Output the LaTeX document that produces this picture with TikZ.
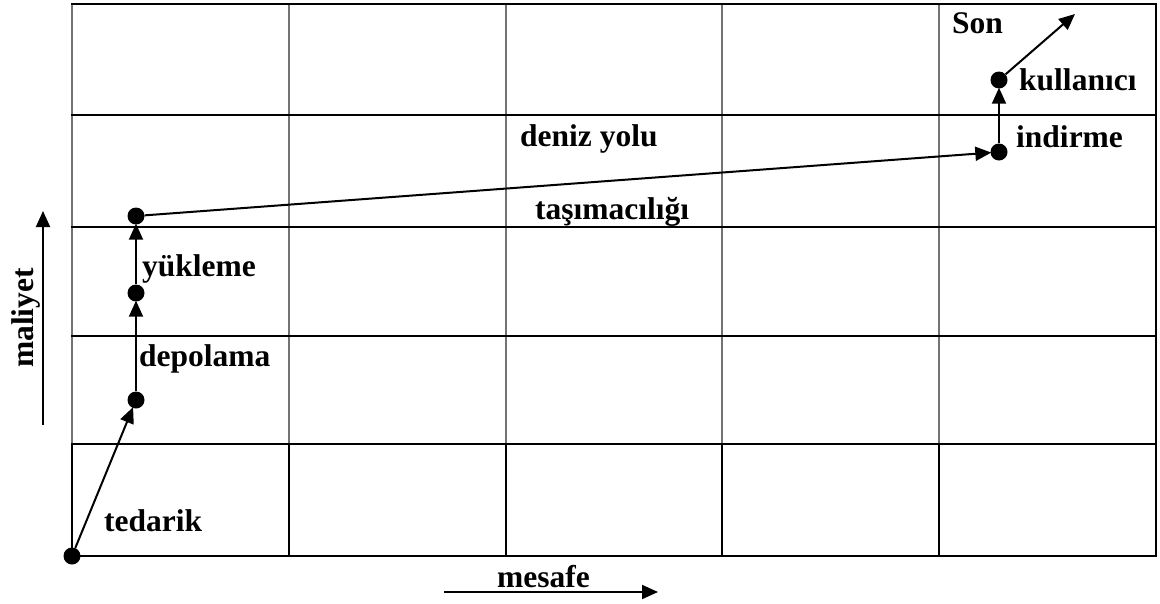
\documentclass[tikz,border=0pt]{standalone}
\usepackage{fontspec}
\setmainfont{Liberation Serif}
\usetikzlibrary{arrows.meta}
\begin{document}
\begin{tikzpicture}[x=1pt,y=-1pt,
  thickline/.style={line width=2.6pt},
  thinline/.style={line width=1.2pt,black!55},
  dot/.style={circle,fill=black,inner sep=0pt,minimum size=17pt},
  lbl/.style={anchor=base west,inner sep=0pt,font=\fontsize{31.5}{36}\selectfont\bfseries},
  flow/.style={line width=2pt,-{Triangle[length=16pt,width=14pt]},shorten >=-1pt}]
\useasboundingbox (0,0) rectangle (1160,603);
% grid: thin interior verticals in the upper rows
\foreach \x in {289,506,722,939}
  \draw[thinline] (\x,4) -- (\x,444);
\draw[thinline] (72,4) -- (72,444);
% bottom row with heavier borders
\foreach \x in {72,289,506,722,939}
  \draw[thickline] (\x,444) -- (\x,556);
% horizontal rules and right edge
\foreach \y in {4,115,227,336,444,556}
  \draw[thickline] (71,\y) -- (1157,\y);
\draw[thickline] (1156,4) -- (1156,556);
% route points
\node[dot] (o) at (72,556) {};
\node[dot] (d) at (136,400) {};
\node[dot] (y) at (136,293) {};
\node[dot] (s) at (136,216) {};
\node[dot] (i) at (999,152) {};
\node[dot] (k) at (999,80) {};
\coordinate (e) at (1075,14);
\draw[flow] (o) -- (d);
\draw[flow] (d) -- (y);
\draw[flow] (y) -- (s);
\draw[flow] (s) -- (i);
\draw[flow] (i) -- (k);
\draw[flow,shorten >=0pt] (k) -- (e);
% stage labels
\node[lbl] (t1) at (104,531) {tedarik};
\node[lbl] (t2) at (139,366) {depolama};
\node[lbl] (t3) at (142,276) {yükleme};
\node[lbl] (t4) at (520,146) {deniz yolu};
\node[lbl] (t5) at (535,219) {taşımacılığı};
\node[lbl] (t6) at (1016,147) {indirme};
\node[lbl] (t7) at (1019,90) {kullanıcı};
\node[lbl] (t8) at (952,33) {Son};
% axes
\node[lbl] (mx) at (497,587) {mesafe};
\coordinate (ma) at (444,592);
\coordinate (mb) at (658,592);
\draw[flow,shorten >=0pt] (ma) -- (mb);
\node[lbl,rotate=90] (my) at (33,368) {maliyet};
\coordinate (ya) at (43,425);
\coordinate (yb) at (43,211);
\draw[flow,shorten >=0pt] (ya) -- (yb);
\end{tikzpicture}
\end{document}
